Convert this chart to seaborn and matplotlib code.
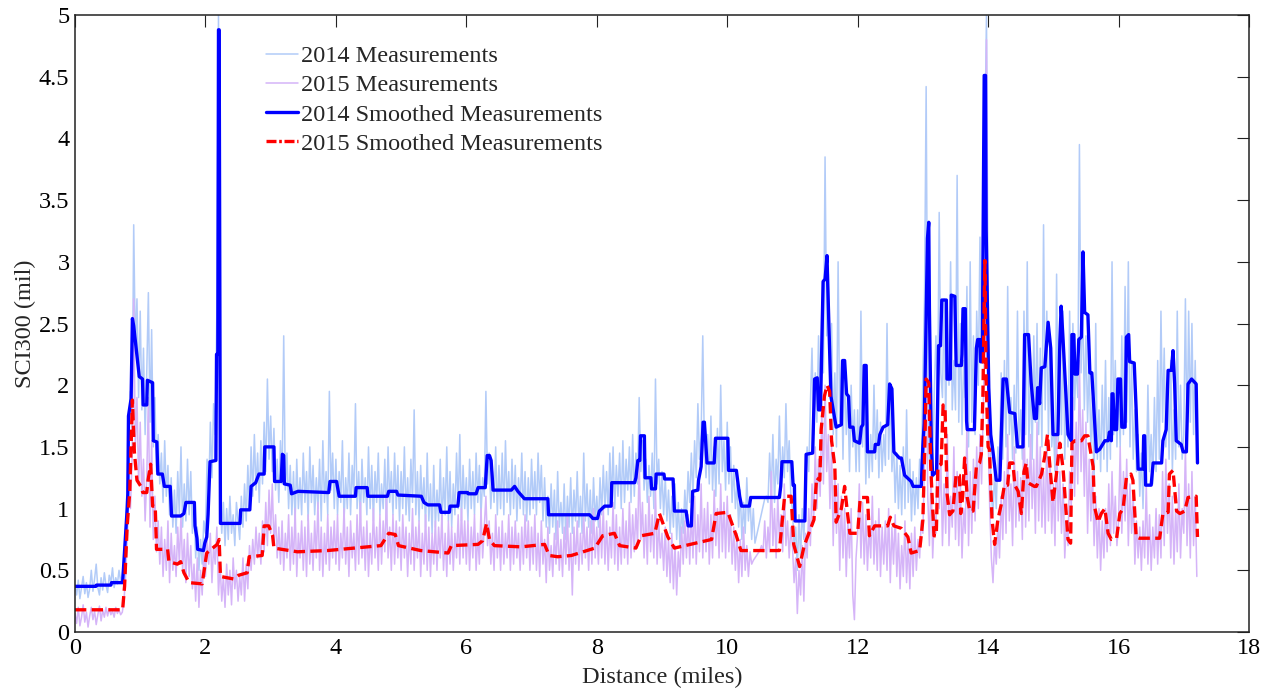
import numpy as np
import pandas as pd
import matplotlib
matplotlib.use("Agg")
import matplotlib.pyplot as plt
import seaborn as sns

# ---------------- data ----------------
step_miles = 0.025  # spacing of the raw measurement samples

raw2014 = [
    # 0 - 1 mile
    0.38,0.30,0.42,0.27,0.36,0.45,0.31,0.40,0.28,0.35,0.50,0.33,0.43,0.55,0.36,0.30,0.44,0.34,0.48,0.38,
    0.32,0.46,0.40,0.52,0.36,0.44,0.39,0.50,0.41,0.47,0.55,0.80,1.20,1.65,1.95,1.60,3.30,2.30,2.70,1.90,
    # 1 - 2
    2.60,1.80,2.30,1.60,2.10,2.75,1.70,2.45,1.50,1.90,1.30,1.60,1.20,1.45,1.05,1.55,1.10,1.35,0.95,1.25,
    0.85,1.15,0.80,1.30,0.95,1.50,0.85,1.20,0.90,1.40,0.95,1.30,0.80,1.05,0.60,0.85,0.50,0.75,0.55,0.90,
    # 2 - 3
    0.80,1.40,1.10,1.70,1.25,1.85,1.60,2.60,5.00,1.10,0.80,1.05,0.70,1.00,0.75,1.10,0.80,0.95,0.70,1.05,
    0.90,0.75,1.10,0.85,1.20,0.90,1.35,1.00,1.50,1.10,1.60,1.15,1.45,1.05,1.55,1.20,1.70,1.30,2.05,1.40,
    # 3 - 4
    1.75,1.30,1.65,1.15,1.40,1.05,1.55,1.20,2.40,1.15,1.45,1.00,1.35,0.95,1.30,0.90,1.40,1.00,1.25,0.95,
    1.45,1.05,1.30,0.90,1.50,1.05,1.35,0.95,1.25,1.00,1.40,0.90,1.55,1.05,1.30,0.95,1.95,1.15,1.45,1.00,
    # 4 - 5
    1.40,0.95,1.30,1.05,1.55,0.90,1.25,1.00,1.45,0.95,1.35,1.10,1.85,1.00,1.30,0.90,1.40,1.05,1.25,0.95,
    1.50,1.00,1.35,0.90,1.30,1.05,1.45,0.95,1.20,1.00,1.40,0.90,1.50,1.05,1.30,0.95,1.45,1.00,1.35,0.90,
    # 5 - 6
    1.30,1.00,1.50,0.95,1.25,0.90,1.40,1.05,1.80,0.95,1.30,0.90,1.35,1.00,1.25,0.85,1.45,0.90,1.20,0.80,
    1.35,0.85,1.15,0.90,1.40,0.85,1.25,0.95,1.50,0.90,1.30,0.85,1.20,0.95,1.45,1.00,1.60,0.90,1.35,1.00,
    # 6 - 7
    1.25,0.90,1.40,1.00,1.30,0.95,1.45,1.05,1.35,0.95,1.25,1.10,1.95,1.20,1.45,1.00,1.30,1.05,1.50,0.95,
    1.35,1.00,1.45,0.95,1.55,1.05,1.30,0.95,1.40,1.00,1.35,0.90,1.25,1.00,1.45,0.95,1.30,0.90,1.25,0.95,
    # 7 - 8
    1.40,1.00,1.30,0.95,1.45,1.05,1.35,0.90,1.25,0.85,1.10,0.80,1.20,0.85,1.15,0.75,1.30,0.85,1.05,0.80,
    1.20,0.75,1.10,0.85,1.25,0.80,1.15,0.90,1.30,0.85,1.10,0.80,1.45,0.90,1.20,0.85,1.15,0.80,1.25,0.90,
    # 8 - 9
    1.10,0.85,1.25,0.95,1.35,1.00,1.30,0.95,1.45,1.05,1.50,1.00,1.35,1.10,1.45,1.00,1.55,1.05,1.40,1.15,
    1.50,1.05,1.60,1.10,1.45,1.20,1.90,1.30,1.55,1.15,1.40,1.05,1.35,1.10,1.45,1.00,2.05,1.20,1.40,1.00,
    # 9 - 10
    1.30,0.95,1.25,0.90,1.15,0.80,1.10,0.85,1.20,0.75,1.05,0.70,1.00,0.80,1.15,0.90,1.30,1.05,1.45,1.10,
    1.55,1.25,1.85,1.40,1.60,2.40,1.50,1.25,1.60,1.20,1.75,1.15,1.50,1.10,1.65,1.20,2.00,1.30,1.55,1.15,
    # 10 - 11
    1.70,1.20,1.50,1.05,1.35,1.00,1.20,0.85,1.15,0.75,1.05,0.80,1.25,0.90,1.10,0.75,1.00,0.72,0.78,0.84,
    0.90,0.96,1.02,1.08,1.10,1.05,1.45,1.10,1.60,1.05,1.40,1.20,1.75,1.15,1.50,1.25,1.85,1.30,1.55,1.10,
    # 11 - 12
    1.00,0.70,0.85,0.50,0.95,0.60,1.00,0.75,1.20,1.50,1.30,1.85,2.30,1.60,2.10,1.70,2.40,1.90,2.60,2.10,
    3.85,2.40,2.90,2.00,2.50,1.60,2.10,1.50,3.00,1.70,2.20,1.40,2.20,1.60,1.90,1.30,2.00,1.50,1.80,1.30,
    # 12 - 13
    1.80,1.30,2.60,1.50,2.00,1.20,1.70,1.25,1.60,1.30,2.00,1.40,1.80,1.25,1.70,1.30,1.60,1.35,2.50,1.40,
    2.00,1.30,1.55,1.05,1.45,1.00,1.35,0.95,1.50,1.00,1.80,1.05,1.40,0.90,1.30,0.95,1.25,1.00,1.40,1.20,
    # 13 - 14
    2.10,2.70,4.42,2.00,1.40,1.60,1.25,1.95,2.40,1.80,3.40,2.10,1.90,2.70,1.70,2.60,2.00,3.00,1.80,2.20,
    1.80,3.70,1.70,2.50,1.60,2.20,1.90,2.80,1.50,3.00,1.70,2.40,1.60,2.60,2.00,3.20,2.20,2.70,4.00,5.00,
    # 14 - 15
    2.60,1.60,1.10,0.95,1.30,1.00,1.50,1.30,2.10,1.40,2.20,1.50,2.80,1.60,1.90,1.40,2.00,1.45,2.60,1.50,
    1.80,1.40,2.60,1.60,3.00,1.50,2.10,1.40,2.40,1.70,2.50,1.60,2.30,1.50,3.30,1.80,2.60,1.60,2.40,1.50,
    # 15 - 16
    1.70,1.30,2.90,1.50,2.20,1.60,2.60,1.40,2.00,1.50,2.60,1.70,2.50,1.80,2.20,1.90,3.95,2.10,2.70,1.80,
    2.40,1.70,2.20,1.50,1.90,1.20,2.50,1.40,1.80,1.30,2.00,1.40,2.20,1.30,1.90,1.40,3.00,1.60,2.20,1.50,
    # 16 - 17
    2.00,1.50,2.40,1.60,2.80,1.70,3.00,1.50,2.20,1.40,1.80,1.30,1.60,1.10,1.45,1.00,1.60,1.20,2.00,1.30,
    1.60,1.20,1.90,1.30,2.20,1.40,2.60,1.70,2.30,1.50,2.00,1.40,2.20,1.30,1.80,1.40,2.60,1.50,2.00,1.40,
    # 17 - 17.2
    1.60,2.70,1.50,2.60,1.70,2.50,1.60,2.20,1.50,
]

raw2015 = [
    # 0 - 1 mile
    0.15,0.07,0.20,0.05,0.12,0.22,0.08,0.16,0.04,0.13,0.20,0.10,0.17,0.06,0.14,0.21,0.09,0.18,0.12,0.20,
    0.13,0.19,0.14,0.17,0.12,0.20,0.15,0.18,0.14,0.16,0.25,0.45,0.75,1.10,1.00,1.40,2.70,1.50,1.90,1.20,
    # 1 - 2
    1.70,1.10,1.40,0.90,1.25,1.90,0.85,1.55,0.75,1.10,0.65,0.90,0.55,0.85,0.45,0.75,0.50,0.90,0.40,0.80,
    0.50,0.70,0.45,0.85,0.55,0.95,0.50,0.75,0.40,0.80,0.45,0.70,0.35,0.55,0.25,0.60,0.20,0.50,0.30,0.65,
    # 2 - 3
    0.45,0.75,0.55,0.80,0.40,0.70,0.55,0.85,0.30,0.55,0.25,0.45,0.20,0.55,0.30,0.50,0.22,0.60,0.35,0.50,
    0.25,0.45,0.30,0.60,0.25,0.55,0.35,0.70,0.50,0.75,0.55,0.85,0.60,0.80,0.55,0.90,0.65,1.05,0.70,1.15,
    # 3 - 4
    0.80,1.20,0.70,0.95,0.60,0.85,0.55,0.90,0.50,0.80,0.60,0.95,0.50,0.85,0.55,1.00,0.45,0.80,0.60,0.90,
    0.50,0.85,0.45,0.95,0.55,0.80,0.50,0.90,0.60,1.05,0.50,0.85,0.45,0.80,0.55,0.95,0.50,0.85,0.60,0.90,
    # 4 - 5
    0.55,0.95,0.50,0.80,0.60,1.00,0.55,0.85,0.45,0.90,0.60,0.80,0.50,0.95,0.55,1.05,0.60,0.85,0.50,0.90,
    0.45,0.80,0.55,1.00,0.60,0.85,0.50,0.95,0.55,0.90,0.65,1.10,0.60,0.85,0.50,0.95,0.55,0.90,0.60,0.85,
    # 5 - 6
    0.50,0.95,0.60,0.85,0.45,0.80,0.55,1.00,0.50,0.85,0.60,0.90,0.45,0.80,0.55,0.95,0.50,0.85,0.45,0.80,
    0.55,0.90,0.50,0.85,0.60,0.95,0.50,0.80,0.45,0.90,0.55,0.85,0.50,0.80,0.60,0.95,0.55,1.00,0.60,0.90,
    # 6 - 7
    0.55,0.90,0.50,0.85,0.60,0.95,0.50,0.80,0.55,1.00,0.60,0.85,1.10,0.70,0.90,0.55,0.80,0.50,0.95,0.60,
    0.85,0.50,0.90,0.55,0.80,0.60,0.95,0.50,0.85,0.55,0.90,0.60,0.80,0.50,0.85,0.55,0.95,0.60,0.90,0.50,
    # 7 - 8
    0.85,0.55,0.95,0.50,0.80,0.45,0.90,0.55,0.75,0.40,0.85,0.50,0.70,0.45,0.80,0.55,0.90,0.50,0.75,0.45,
    0.85,0.55,0.95,0.50,0.80,0.30,0.85,0.55,0.90,0.50,0.80,0.55,0.95,0.60,0.85,0.50,0.90,0.55,1.00,0.60,
    # 8 - 9
    0.85,0.55,0.95,0.60,1.00,0.55,0.90,0.50,0.85,0.60,1.05,0.55,0.95,0.50,0.85,0.55,1.00,0.60,0.90,0.55,
    1.05,0.60,0.95,0.65,1.00,0.70,1.40,0.75,1.05,0.60,0.95,0.55,1.10,0.65,0.95,0.60,1.15,0.55,0.90,0.60,
    # 9 - 10
    0.80,0.50,0.85,0.45,0.75,0.40,0.80,0.35,0.70,0.30,0.65,0.45,0.85,0.55,0.90,0.60,0.95,0.55,1.00,0.60,
    1.10,0.55,0.95,0.65,1.20,0.60,1.00,0.65,1.05,0.55,0.95,0.60,1.15,0.70,1.00,0.60,1.20,0.65,1.05,0.60,
    # 10 - 11
    1.10,0.65,0.95,0.55,0.85,0.50,0.80,0.40,0.75,0.45,0.85,0.50,0.70,0.45,0.65,0.55,0.58,0.60,0.62,0.64,
    0.66,0.70,0.65,0.90,0.60,0.85,0.65,1.30,0.70,1.00,0.60,1.10,0.75,0.95,0.65,1.20,0.70,0.90,0.60,0.85,
    # 11 - 12
    0.70,0.40,0.60,0.15,0.50,0.30,0.70,0.25,0.80,0.60,1.00,0.70,1.20,0.90,1.50,1.00,1.40,1.10,1.80,1.20,
    2.00,1.30,1.60,1.00,1.50,0.70,1.30,0.80,1.20,0.50,1.10,0.60,1.00,0.45,0.90,0.60,1.00,0.30,0.10,0.60,
    # 12 - 13
    0.80,1.20,0.60,1.05,0.55,0.95,0.50,0.85,0.60,1.10,0.55,0.90,0.50,1.00,0.45,0.85,0.55,0.90,0.50,1.00,
    0.40,0.85,0.55,0.95,0.45,0.80,0.35,0.70,0.45,0.90,0.40,0.75,0.35,0.80,0.45,0.85,0.50,0.75,0.60,0.90,
    # 13 - 14
    0.80,1.40,2.40,1.10,0.70,1.30,0.60,0.95,0.80,1.80,1.00,1.40,0.70,1.20,0.80,1.60,0.70,1.10,0.85,1.50,
    0.75,1.30,0.70,1.20,0.60,1.00,0.80,1.70,0.70,1.30,0.80,1.40,0.90,1.50,1.00,1.60,1.20,1.80,2.40,4.80,
    # 14 - 15
    1.60,1.00,0.60,0.40,0.75,0.55,0.90,0.60,1.10,0.75,1.30,0.80,1.60,0.90,1.20,0.70,1.50,0.85,1.30,0.90,
    1.25,0.75,1.90,0.85,1.40,0.90,1.60,1.00,1.40,0.80,1.70,0.90,1.50,0.85,1.30,0.80,1.60,0.90,1.40,0.80,
    # 15 - 16
    1.20,0.70,1.60,0.90,1.30,0.80,1.20,0.60,0.90,0.70,1.30,1.00,1.90,1.10,1.70,1.20,2.20,1.30,1.80,1.10,
    1.70,0.80,1.40,0.90,1.30,0.70,1.10,0.60,1.00,0.50,0.90,0.60,1.00,0.65,1.20,0.70,1.30,0.80,1.10,0.70,
    # 16 - 17
    0.90,1.50,0.80,1.30,0.90,1.40,0.70,1.20,0.80,1.10,0.55,0.90,0.60,0.85,0.50,0.90,0.60,1.20,0.55,0.95,
    0.50,0.85,0.60,1.00,0.55,0.95,0.60,1.30,0.70,1.40,0.80,1.20,0.60,1.10,0.55,1.00,0.65,1.20,0.60,1.00,
    # 17 - 17.2
    0.80,1.50,0.70,1.20,0.60,1.30,0.70,1.10,0.45,
]

smooth2014_x = [
    0.00,0.32,0.33,0.55,0.56,0.73,0.80,0.81,0.82,0.86,0.88,0.90,0.985,1.035,1.045,1.10,1.11,1.19,1.20,1.255,
    1.27,1.34,1.37,1.46,1.48,1.62,1.67,1.70,1.83,1.84,1.87,1.88,1.97,1.99,2.02,2.04,2.07,2.16,2.17,2.19,
    2.20,2.21,2.23,2.53,2.54,2.68,2.70,2.77,2.82,2.90,2.91,3.05,3.06,3.16,3.18,3.20,3.21,3.30,3.32,3.42,
    3.89,3.91,4.01,4.05,4.30,4.31,4.48,4.49,4.79,4.81,4.93,4.95,5.31,5.35,5.41,5.59,5.61,5.74,5.75,5.87,
    5.89,6.02,6.03,6.15,6.18,6.29,6.32,6.355,6.38,6.41,6.69,6.74,6.79,6.89,7.25,7.26,7.89,7.94,8.01,8.04,
    8.12,8.22,8.23,8.58,8.60,8.63,8.66,8.67,8.73,8.74,8.83,8.84,8.90,8.91,9.03,9.04,9.17,9.19,9.37,9.40,
    9.45,9.47,9.55,9.56,9.60,9.63,9.65,9.69,9.80,9.82,10.01,10.02,10.14,10.19,10.22,10.34,10.36,10.80,10.82,10.84,
    10.99,11.01,11.03,11.04,11.19,11.21,11.31,11.34,11.38,11.40,11.43,11.47,11.50,11.53,11.54,11.59,11.67,11.75,11.77,11.80,
    11.83,11.86,11.88,11.93,11.95,12.03,12.055,12.08,12.10,12.13,12.15,12.26,12.27,12.32,12.34,12.39,12.46,12.49,12.525,12.555,
    12.64,12.67,12.72,12.82,12.85,12.975,13.00,13.02,13.04,13.07,13.09,13.10,13.13,13.15,13.21,13.24,13.27,13.29,13.36,13.37,
    13.42,13.435,13.49,13.51,13.59,13.60,13.615,13.65,13.67,13.68,13.79,13.82,13.84,13.87,13.885,13.91,13.94,13.96,13.97,13.99,
    14.01,14.04,14.075,14.125,14.18,14.23,14.28,14.33,14.41,14.45,14.535,14.56,14.62,14.66,14.71,14.74,14.76,14.79,14.815,14.87,
    14.92,14.96,14.995,15.07,15.10,15.12,15.15,15.225,15.275,15.285,15.315,15.33,15.37,15.39,15.43,15.455,15.48,15.53,15.56,15.59,
    15.66,15.71,15.79,15.84,15.86,15.89,15.90,15.915,15.94,15.97,15.99,16.03,16.05,16.10,16.12,16.155,16.17,16.24,16.27,16.30,
    16.375,16.385,16.40,16.415,16.50,16.53,16.66,16.68,16.73,16.76,16.81,16.835,16.86,16.885,16.96,16.99,17.04,17.065,17.12,17.19,
    17.21,
]
smooth2014_y = [
    0.37,0.37,0.38,0.38,0.40,0.40,1.00,1.12,1.75,1.89,2.54,2.48,2.07,2.05,1.84,1.84,2.04,2.02,1.55,1.54,
    1.28,1.28,1.18,1.18,0.94,0.94,0.96,1.05,1.05,0.86,0.76,0.67,0.66,0.72,0.77,0.95,1.38,1.39,2.25,2.25,
    4.88,4.88,0.88,0.88,0.99,0.99,1.18,1.21,1.28,1.28,1.50,1.50,1.22,1.22,1.44,1.43,1.20,1.19,1.12,1.14,
    1.13,1.22,1.22,1.10,1.10,1.17,1.17,1.10,1.10,1.14,1.14,1.11,1.10,1.05,1.03,1.03,0.97,0.97,1.02,1.02,
    1.13,1.13,1.12,1.12,1.17,1.17,1.43,1.43,1.39,1.15,1.15,1.18,1.14,1.08,1.08,0.95,0.95,0.92,0.92,0.98,
    1.02,1.02,1.21,1.21,1.25,1.39,1.39,1.59,1.59,1.25,1.25,1.16,1.16,1.28,1.28,1.24,1.24,0.98,0.98,0.86,
    0.86,1.14,1.15,1.23,1.34,1.70,1.70,1.37,1.37,1.57,1.57,1.31,1.31,1.10,1.02,1.02,1.09,1.09,1.18,1.38,
    1.38,1.19,1.19,0.90,0.90,1.44,1.45,2.05,2.06,1.80,1.80,2.84,2.86,3.05,2.84,1.91,1.66,1.68,2.20,2.20,
    1.93,1.91,1.66,1.66,1.55,1.53,1.66,1.68,2.16,2.16,1.46,1.46,1.52,1.52,1.60,1.66,1.68,2.01,1.97,1.46,
    1.41,1.41,1.27,1.22,1.18,1.18,1.51,1.69,2.25,3.19,3.32,2.62,1.51,1.27,1.30,2.32,2.32,2.69,2.69,2.05,
    2.05,2.73,2.72,2.16,2.16,2.25,2.62,2.62,1.71,1.64,1.64,2.30,2.37,2.37,2.19,2.19,4.51,4.51,3.26,2.60,
    1.98,1.60,1.46,1.23,1.23,2.05,2.05,1.78,1.77,1.50,1.50,2.41,2.41,2.02,1.73,1.73,1.98,1.85,2.14,2.15,
    2.51,2.30,1.60,1.60,2.36,2.64,2.36,1.60,1.55,2.41,2.41,2.09,2.09,2.37,2.39,3.08,2.59,2.57,2.10,2.10,
    1.46,1.48,1.55,1.55,1.62,1.55,1.93,1.93,1.64,1.64,2.05,2.05,1.66,1.66,2.39,2.41,2.19,2.18,1.80,1.32,
    1.32,1.59,1.59,1.19,1.19,1.37,1.37,1.55,1.64,2.12,2.12,2.28,2.01,1.55,1.52,1.46,1.46,2.01,2.05,2.01,
    1.37,
]

smooth2015_x = [
    0.00,0.73,0.76,0.80,0.84,0.88,0.91,0.95,1.01,1.04,1.10,1.12,1.16,1.19,1.23,1.25,1.42,1.44,1.57,1.62,
    1.67,1.75,1.95,2.02,2.18,2.21,2.23,2.43,2.51,2.64,2.67,2.87,2.90,2.97,3.03,3.05,3.41,3.87,4.28,4.69,
    4.81,4.91,4.96,5.30,5.72,5.77,6.18,6.25,6.31,6.355,6.43,6.84,7.20,7.27,7.40,7.61,7.97,8.09,8.27,8.35,
    8.60,8.68,8.89,8.96,9.09,9.19,9.76,9.83,10.01,10.14,10.21,10.80,10.88,10.98,11.02,11.11,11.18,11.33,11.37,11.42,
    11.44,11.49,11.53,11.57,11.60,11.65,11.67,11.75,11.80,11.84,11.88,12.00,12.04,12.15,12.18,12.26,12.46,12.50,12.555,12.67,
    12.77,12.82,12.95,13.00,13.03,13.05,13.09,13.12,13.17,13.205,13.23,13.28,13.31,13.34,13.37,13.41,13.46,13.51,13.56,13.58,
    13.61,13.64,13.68,13.72,13.77,13.82,13.87,13.895,13.92,13.95,13.97,14.00,14.02,14.06,14.10,14.15,14.20,14.25,14.30,14.33,
    14.38,14.41,14.46,14.51,14.55,14.585,14.61,14.71,14.74,14.82,14.87,14.91,14.94,14.995,15.045,15.10,15.15,15.18,15.225,15.265,
    15.285,15.33,15.43,15.48,15.53,15.61,15.63,15.685,15.735,15.79,15.84,15.89,15.97,16.02,16.07,16.12,16.19,16.22,16.27,16.32,
    16.63,16.68,16.76,16.78,16.835,16.89,16.94,17.015,17.065,17.19,17.21,
]
smooth2015_y = [
    0.18,0.18,0.37,0.86,1.14,1.88,1.46,1.23,1.18,1.13,1.13,1.23,1.36,1.02,1.02,0.67,0.67,0.57,0.55,0.57,
    0.48,0.40,0.39,0.64,0.71,0.75,0.45,0.43,0.46,0.48,0.61,0.62,0.86,0.86,0.78,0.68,0.65,0.66,0.68,0.70,
    0.80,0.79,0.70,0.66,0.64,0.70,0.71,0.74,0.88,0.75,0.70,0.69,0.71,0.62,0.61,0.62,0.68,0.78,0.80,0.70,
    0.68,0.78,0.80,0.96,0.77,0.68,0.75,0.96,0.97,0.78,0.66,0.66,1.10,1.10,0.71,0.53,0.70,0.91,1.25,1.23,
    1.64,1.91,2.00,1.95,1.55,1.34,0.89,1.00,1.18,0.98,0.80,0.80,1.09,1.09,0.78,0.86,0.86,0.93,0.86,0.84,
    0.77,0.64,0.66,0.91,1.52,2.05,2.02,1.34,0.78,0.78,1.34,1.36,1.84,1.80,1.12,0.95,0.98,1.28,1.27,0.96,
    1.10,1.41,1.09,0.98,0.98,1.34,1.37,1.44,1.91,3.01,2.02,1.50,1.48,0.91,0.71,0.91,1.03,1.19,1.19,1.37,
    1.37,1.19,1.14,0.96,1.30,1.37,1.21,1.18,1.18,1.28,1.43,1.60,1.39,1.05,1.27,1.53,1.32,1.09,0.75,0.72,
    1.53,1.55,1.55,1.59,1.59,1.34,1.02,0.89,0.96,1.00,0.80,0.75,0.76,0.96,1.00,1.25,1.28,1.23,0.77,0.76,
    0.76,0.96,0.97,1.28,1.31,0.98,0.96,0.98,1.09,1.10,0.77,
]

series_labels = ["2014 Measurements", "2015 Measurements",
                 "2014 Smoothed Measurements", "2015 Smoothed Measurements"]
x_ticks = [0, 2, 4, 6, 8, 10, 12, 14, 16, 18]
y_ticks = [0, 0.5, 1, 1.5, 2, 2.5, 3, 3.5, 4, 4.5, 5]
y_tick_labels = ["0", "0.5", "1", "1.5", "2", "2.5", "3", "3.5", "4", "4.5", "5"]

# ---------------- figure ----------------
sns.set_theme(style="white")
plt.rcParams["font.family"] = ["Liberation Serif", "DejaVu Serif"]

W, H = 1273, 691
fig = plt.figure(figsize=(W / 100, H / 100), dpi=100)
ax = fig.add_axes([75 / W, (H - 632) / H, (1249 - 75) / W, (632 - 15) / H])

df14 = pd.DataFrame({"x": np.round(np.arange(len(raw2014)) * step_miles, 3), "y": raw2014})
df15 = pd.DataFrame({"x": np.round(np.arange(len(raw2015)) * step_miles, 3), "y": raw2015})
ds14 = pd.DataFrame({"x": smooth2014_x, "y": smooth2014_y})
ds15 = pd.DataFrame({"x": smooth2015_x, "y": smooth2015_y})

sns.lineplot(data=df14, x="x", y="y", ax=ax, color="#b2cbf8", lw=1.1,
             estimator=None, sort=False, label=series_labels[0])
sns.lineplot(data=df15, x="x", y="y", ax=ax, color="#d5b4f8", lw=1.1,
             estimator=None, sort=False, label=series_labels[1])
sns.lineplot(data=ds14, x="x", y="y", ax=ax, color="#0000ff", lw=2.4,
             estimator=None, sort=False, label=series_labels[2])
sns.lineplot(data=ds15, x="x", y="y", ax=ax, color="#ff0000", lw=2.4,
             estimator=None, sort=False, label=series_labels[3])
ax.lines[-1].set_dashes([3.4, 1.6])

ax.set_xlim(0, 18)
ax.set_ylim(0, 5)
ax.set_xticks(x_ticks)
ax.set_xticklabels([str(t) for t in x_ticks])
ax.set_yticks(y_ticks)
ax.set_yticklabels(y_tick_labels)
ax.tick_params(direction="in", length=8.5, width=0.8, top=True, right=True,
               labelsize=17.5, pad=4, colors="#222222", labelcolor="black")
for sp in ax.spines.values():
    sp.set_visible(True)
    sp.set_color("#222222")
    sp.set_linewidth(1.1)

ax.set_xlabel("Distance (miles)", fontsize=17.5, labelpad=6)
ax.set_ylabel("SCI300 (mil)", fontsize=17.5, labelpad=2)

leg = ax.legend(loc="upper left", bbox_to_anchor=(266 / W, 1 - 45 / H),
                bbox_transform=fig.transFigure, frameon=False, fontsize=17.5,
                handlelength=1.3, handletextpad=0.15, labelspacing=0.3,
                borderpad=0, borderaxespad=0)
leg.get_lines()[3].set_dashes([3, 0.8, 0.8, 0.8])

fig.savefig("out.png", dpi=100)
